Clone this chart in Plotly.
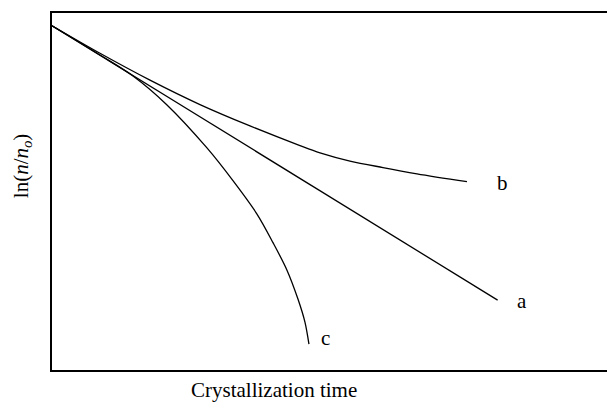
import plotly.graph_objects as go

# Data (arbitrary units)
a_x = [0.0, 2.0, 4.0, 6.0, 8.35]
a_y = [0.0, -1.91, -3.82, -5.73, -7.97]

b_x = [0.0, 0.899, 1.836, 2.773, 3.710, 4.647, 5.022, 5.584, 6.202, 6.839, 7.776]
b_y = [0.0, -0.80, -1.58, -2.29, -2.91, -3.48, -3.69, -3.93, -4.12, -4.30, -4.53]

c_x = [0.0, 0.899, 1.518, 2.155, 2.904, 3.391, 3.841, 4.141, 4.403, 4.609, 4.740, 4.815]
c_y = [0.0, -0.85, -1.46, -2.30, -3.55, -4.50, -5.47, -6.30, -7.10, -7.94, -8.61, -9.25]

labels = ["a", "b", "c"]
label_x = [8.81, 8.45, 5.13]
label_y = [-8.0, -4.57, -9.07]

FONT = "Liberation Serif, Times New Roman, serif"

fig = go.Figure()
fig.add_trace(go.Scatter(x=a_x, y=a_y, mode="lines",
                         line=dict(color="black", width=1.3),
                         showlegend=False, hoverinfo="skip"))
for xs, ys in [(b_x, b_y), (c_x, c_y)]:
    fig.add_trace(go.Scatter(x=xs, y=ys, mode="lines",
                             line=dict(color="black", width=1.3, shape="spline", smoothing=0.9),
                             showlegend=False, hoverinfo="skip"))

annotations = []
for t, x, y in zip(labels, label_x, label_y):
    annotations.append(dict(x=x, y=y, xref="x", yref="y", text=t, showarrow=False,
                            font=dict(family=FONT, size=21, color="black")))

annotations.append(dict(x=0.40, y=-0.056, xref="paper", yref="paper",
                        text="Crystallization time", showarrow=False,
                        xanchor="center", yanchor="middle",
                        font=dict(family=FONT, size=21, color="black")))
annotations.append(dict(x=-0.054, y=0.571, xref="paper", yref="paper",
                        text="ln(<i>n</i>/<i>n</i><sub><i>o</i></sub>)", showarrow=False,
                        textangle=-90, xanchor="center", yanchor="middle",
                        font=dict(family=FONT, size=21, color="black")))

fig.update_layout(
    width=607, height=410,
    margin=dict(l=52, r=0, t=13, b=40),
    paper_bgcolor="white", plot_bgcolor="white",
    xaxis=dict(range=[0, 10.4], showline=True, linecolor="black", linewidth=2,
               mirror=True, showgrid=False, zeroline=False, showticklabels=False, ticks=""),
    yaxis=dict(range=[-10, 0.37], showline=True, linecolor="black", linewidth=2,
               mirror=False, showgrid=False, zeroline=False, showticklabels=False, ticks=""),
    annotations=annotations,
)

fig.write_html("out.html")
